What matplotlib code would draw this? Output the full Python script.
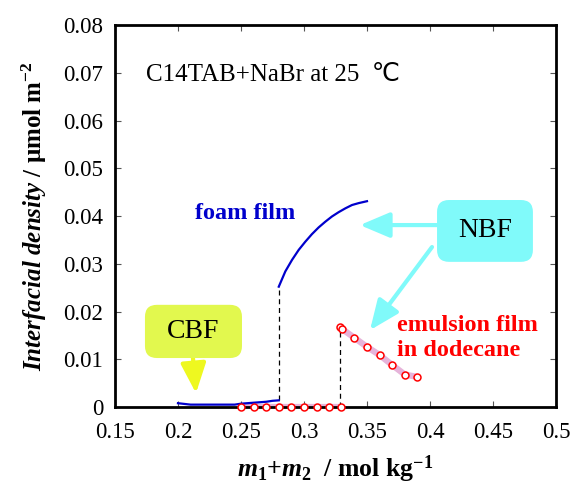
import numpy as np
import matplotlib.pyplot as plt
from matplotlib.patches import FancyBboxPatch

plt.rcParams['font.family'] = ['Liberation Serif', 'DejaVu Sans']
plt.rcParams['mathtext.fontset'] = 'custom'
plt.rcParams['mathtext.rm'] = 'Liberation Serif:bold'
plt.rcParams['mathtext.it'] = 'Liberation Serif:italic:bold'
plt.rcParams['mathtext.bf'] = 'Liberation Serif:bold'

#-------data------
# foam film, CBF branch (low) and NBF branch (high)
foam_cbf_m = [0.20, 0.21, 0.245, 0.25, 0.26, 0.27, 0.275, 0.28]
foam_cbf_g = [0.0008, 0.0005, 0.0005, 0.0007, 0.0009, 0.0011, 0.0013, 0.0014]
foam_nbf_m = [0.28, 0.2852, 0.2905, 0.2958, 0.3010, 0.3063, 0.3116, 0.3169,
              0.3222, 0.3275, 0.3328, 0.3381, 0.3434, 0.35]
foam_nbf_g = [0.0252, 0.0284, 0.0308, 0.0329, 0.0346, 0.0362, 0.0376, 0.0388,
              0.0399, 0.0408, 0.0416, 0.0423, 0.0427, 0.0431]
# emulsion film in dodecane
emul_low_m = [0.25, 0.26, 0.27, 0.28, 0.29, 0.30, 0.31, 0.32, 0.329]
emul_low_g = [0, 0, 0, 0, 0, 0, 0, 0, 0]
emul_high_m = [0.3285, 0.3305, 0.34, 0.35, 0.36, 0.37, 0.38, 0.39]
emul_high_g = [0.0167, 0.0163, 0.0145, 0.0126, 0.0109, 0.0088, 0.0068, 0.0063]

xticks = [0.15, 0.2, 0.25, 0.3, 0.35, 0.4, 0.45, 0.5]
yticks = [0, 0.01, 0.02, 0.03, 0.04, 0.05, 0.06, 0.07, 0.08]

fig = plt.figure(figsize=(5.72, 4.93), dpi=100)
ax = fig.add_axes([0.201, 0.1744, 0.771, 0.7749])

pink = '#e6b4da'
ax.plot(emul_low_m, emul_low_g, color=pink, lw=4.5, solid_capstyle='round', zorder=2)
ax.plot(emul_high_m, emul_high_g, color=pink, lw=4.5, solid_capstyle='round', zorder=2)
ax.plot(emul_low_m, emul_low_g, 'o', ms=5, mfc='white', mec='red', mew=1.1, zorder=5, clip_on=False)
ax.plot(emul_high_m, emul_high_g, 'o', ms=5, mfc='white', mec='red', mew=1.1, zorder=5)

ax.plot(foam_cbf_m, foam_cbf_g, color='#0000cc', lw=1.6, zorder=4)
ax.plot(foam_nbf_m, foam_nbf_g, color='#0000cc', lw=1.6, zorder=4)

# transitions
ax.plot([foam_cbf_m[-1]] * 2, [foam_cbf_g[-1], foam_nbf_g[0]], color='k', lw=0.9, ls=(0, (4, 3)), zorder=3)
ax.plot([emul_high_m[0]] * 2, [0, emul_high_g[0]], color='k', lw=0.9, ls=(0, (4, 3)), zorder=3)

ax.set_xlim(0.15, 0.5)
ax.set_ylim(0, 0.08)
ax.set_xticks(xticks)
ax.set_xticklabels(['%g' % v for v in xticks])
ax.set_yticks(yticks)
ax.set_yticklabels(['%g' % v for v in yticks])
ax.tick_params(direction='in', length=4, width=0.8, color='#555555', top=True, right=True,
               labelsize=16.5)
ax.tick_params(axis='x', pad=11)
ax.tick_params(axis='y', pad=8.5)
for s in ax.spines.values():
    s.set_linewidth(2)

ax.set_xlabel(r'$m_{1}$+$m_{2}$  / mol kg$^{-1}$', fontsize=18.5, fontweight='bold', labelpad=7)
ax.set_ylabel(r'$Interfacial\ density$ / μmol m$^{-2}$', fontsize=18, fontweight='bold', labelpad=10)

ax.text(0.175, 0.0695, 'C14TAB+NaBr at 25  ℃', fontsize=18, va='center', ha='left')
ax.text(0.2135, 0.0406, 'foam film', color='#0000cc', fontsize=17.5, fontweight='bold', va='center')
ax.text(0.3738, 0.01445, 'emulsion film\nin dodecane', color='red', fontsize=17.5, fontweight='bold',
        va='center', ha='left', linespacing=1.25)

arrow_kw = dict(arrowstyle='-|>,head_length=1.3,head_width=0.55', lw=3, shrinkA=0, shrinkB=0,
                mutation_scale=14)

# NBF box and arrows
nbf_c = '#80fafa'
ax.add_patch(FancyBboxPatch((0.4056, 0.0304), 0.0761, 0.01295, boxstyle='round,pad=0,rounding_size=0.0095',
                            mutation_aspect=0.264, fc=nbf_c, ec='none', zorder=6))
ax.text(0.4437, 0.0369, 'NBF', fontsize=20, ha='center', va='center', zorder=7)
ax.annotate('', xy=(0.3444, 0.0381), xytext=(0.4056, 0.0381),
            arrowprops=dict(color=nbf_c, **arrow_kw))
ax.annotate('', xy=(0.3524, 0.0161), xytext=(0.4016, 0.0335),
            arrowprops=dict(color=nbf_c, **arrow_kw))

# CBF box and arrow
cbf_c = '#e2f84e'
ax.add_patch(FancyBboxPatch((0.1738, 0.01026), 0.077, 0.01114, boxstyle='round,pad=0,rounding_size=0.0095',
                            mutation_aspect=0.264, fc=cbf_c, ec='none', zorder=6))
ax.text(0.2119, 0.0159, 'CBF', fontsize=20, ha='center', va='center', zorder=7)
ax.annotate('', xy=(0.2143, 0.0029), xytext=(0.2119, 0.01026),
            arrowprops=dict(color='#eef820', **arrow_kw))

fig.savefig('out.png', dpi=100)
